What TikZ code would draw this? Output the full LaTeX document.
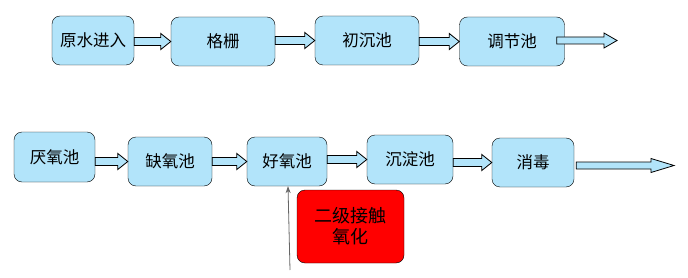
\documentclass[tikz,border=0pt]{standalone}
\usepackage{fontspec}
\setmainfont{Noto Sans CJK SC}
\usetikzlibrary{calc,arrows.meta}
\definecolor{tankblue}{RGB}{178,228,250}
% block arrow: start, end, head length, shaft half height, head half height
\newcommand{\flowarrow}[5]{%
  \draw[flow] ($(#1)+(0,-#4)$) -- ($(#2)+(-#3,-#4)$) -- ($(#2)+(-#3,-#5)$) -- (#2)
    -- ($(#2)+(-#3,#5)$) -- ($(#2)+(-#3,#4)$) -- ($(#1)+(0,#4)$) -- cycle;}

\begin{document}
\begin{tikzpicture}[x=1pt, y=-1pt,
  tank/.style={draw=black, fill=tankblue, rounded corners=8pt, minimum height=49pt,
    inner sep=0pt, font=\fontsize{16.5}{20}\selectfont},
  hot/.style={tank, fill=red, minimum width=107pt, minimum height=73pt, align=center,
    font=\fontsize{18}{21}\selectfont},
  flow/.style={draw=black, fill=tankblue, line width=0.8pt},
  feed/.style={draw=black!60, line width=0.8pt, -{Stealth[length=7pt, width=5pt]}}]
\useasboundingbox (0,0) rectangle (688,278);
% pretreatment line
\node[tank, minimum width=82pt]  (raw)     at (93,40.5)  {原水进入};
\node[tank, minimum width=104pt] (screen)  at (223,41.5) {格栅};
\node[tank, minimum width=104pt] (primary) at (367,40.5) {初沉池};
\node[tank, minimum width=105pt] (equal)   at (512,41.5) {调节池};
% biological line
\node[tank, minimum width=81pt, minimum height=50pt] (anaer) at (54.5,157) {厌氧池};
\node[tank, minimum width=84pt] (anox)   at (170,161.5) {缺氧池};
\node[tank, minimum width=80pt] (aer)    at (287,161.5) {好氧池};
\node[tank, minimum width=86pt] (settle) at (410,159.5) {沉淀池};
\node[tank, minimum width=82pt] (disinf) at (533,162.5) {消毒};
\node[hot] (contact) at (350.5,226.5) {二级接触\\氧化};
% block arrows between the tanks
\foreach \a/\b in {raw/screen,screen/primary,primary/equal,
                   anaer/anox,anox/aer,aer/settle,settle/disinf}{
  \path (\a.east |- \b.west) coordinate (s) (\b.west) coordinate (t);
  \flowarrow{s}{t}{10}{4}{8}
}
% outlets
\coordinate (out1) at (617,40.5);
\coordinate (out2) at (674,165.5);
\path ([xshift=-8pt]equal.east |- out1) coordinate (s1);
\flowarrow{s1}{out1}{13}{3.5}{7.5}
\path ([xshift=2pt]disinf.east |- out2) coordinate (s2);
\flowarrow{s2}{out2}{23}{3.5}{7}
% air feed
\coordinate (air) at (290,270);
\draw[feed] (air) -- ([xshift=1pt]aer.south);
\end{tikzpicture}
\end{document}
